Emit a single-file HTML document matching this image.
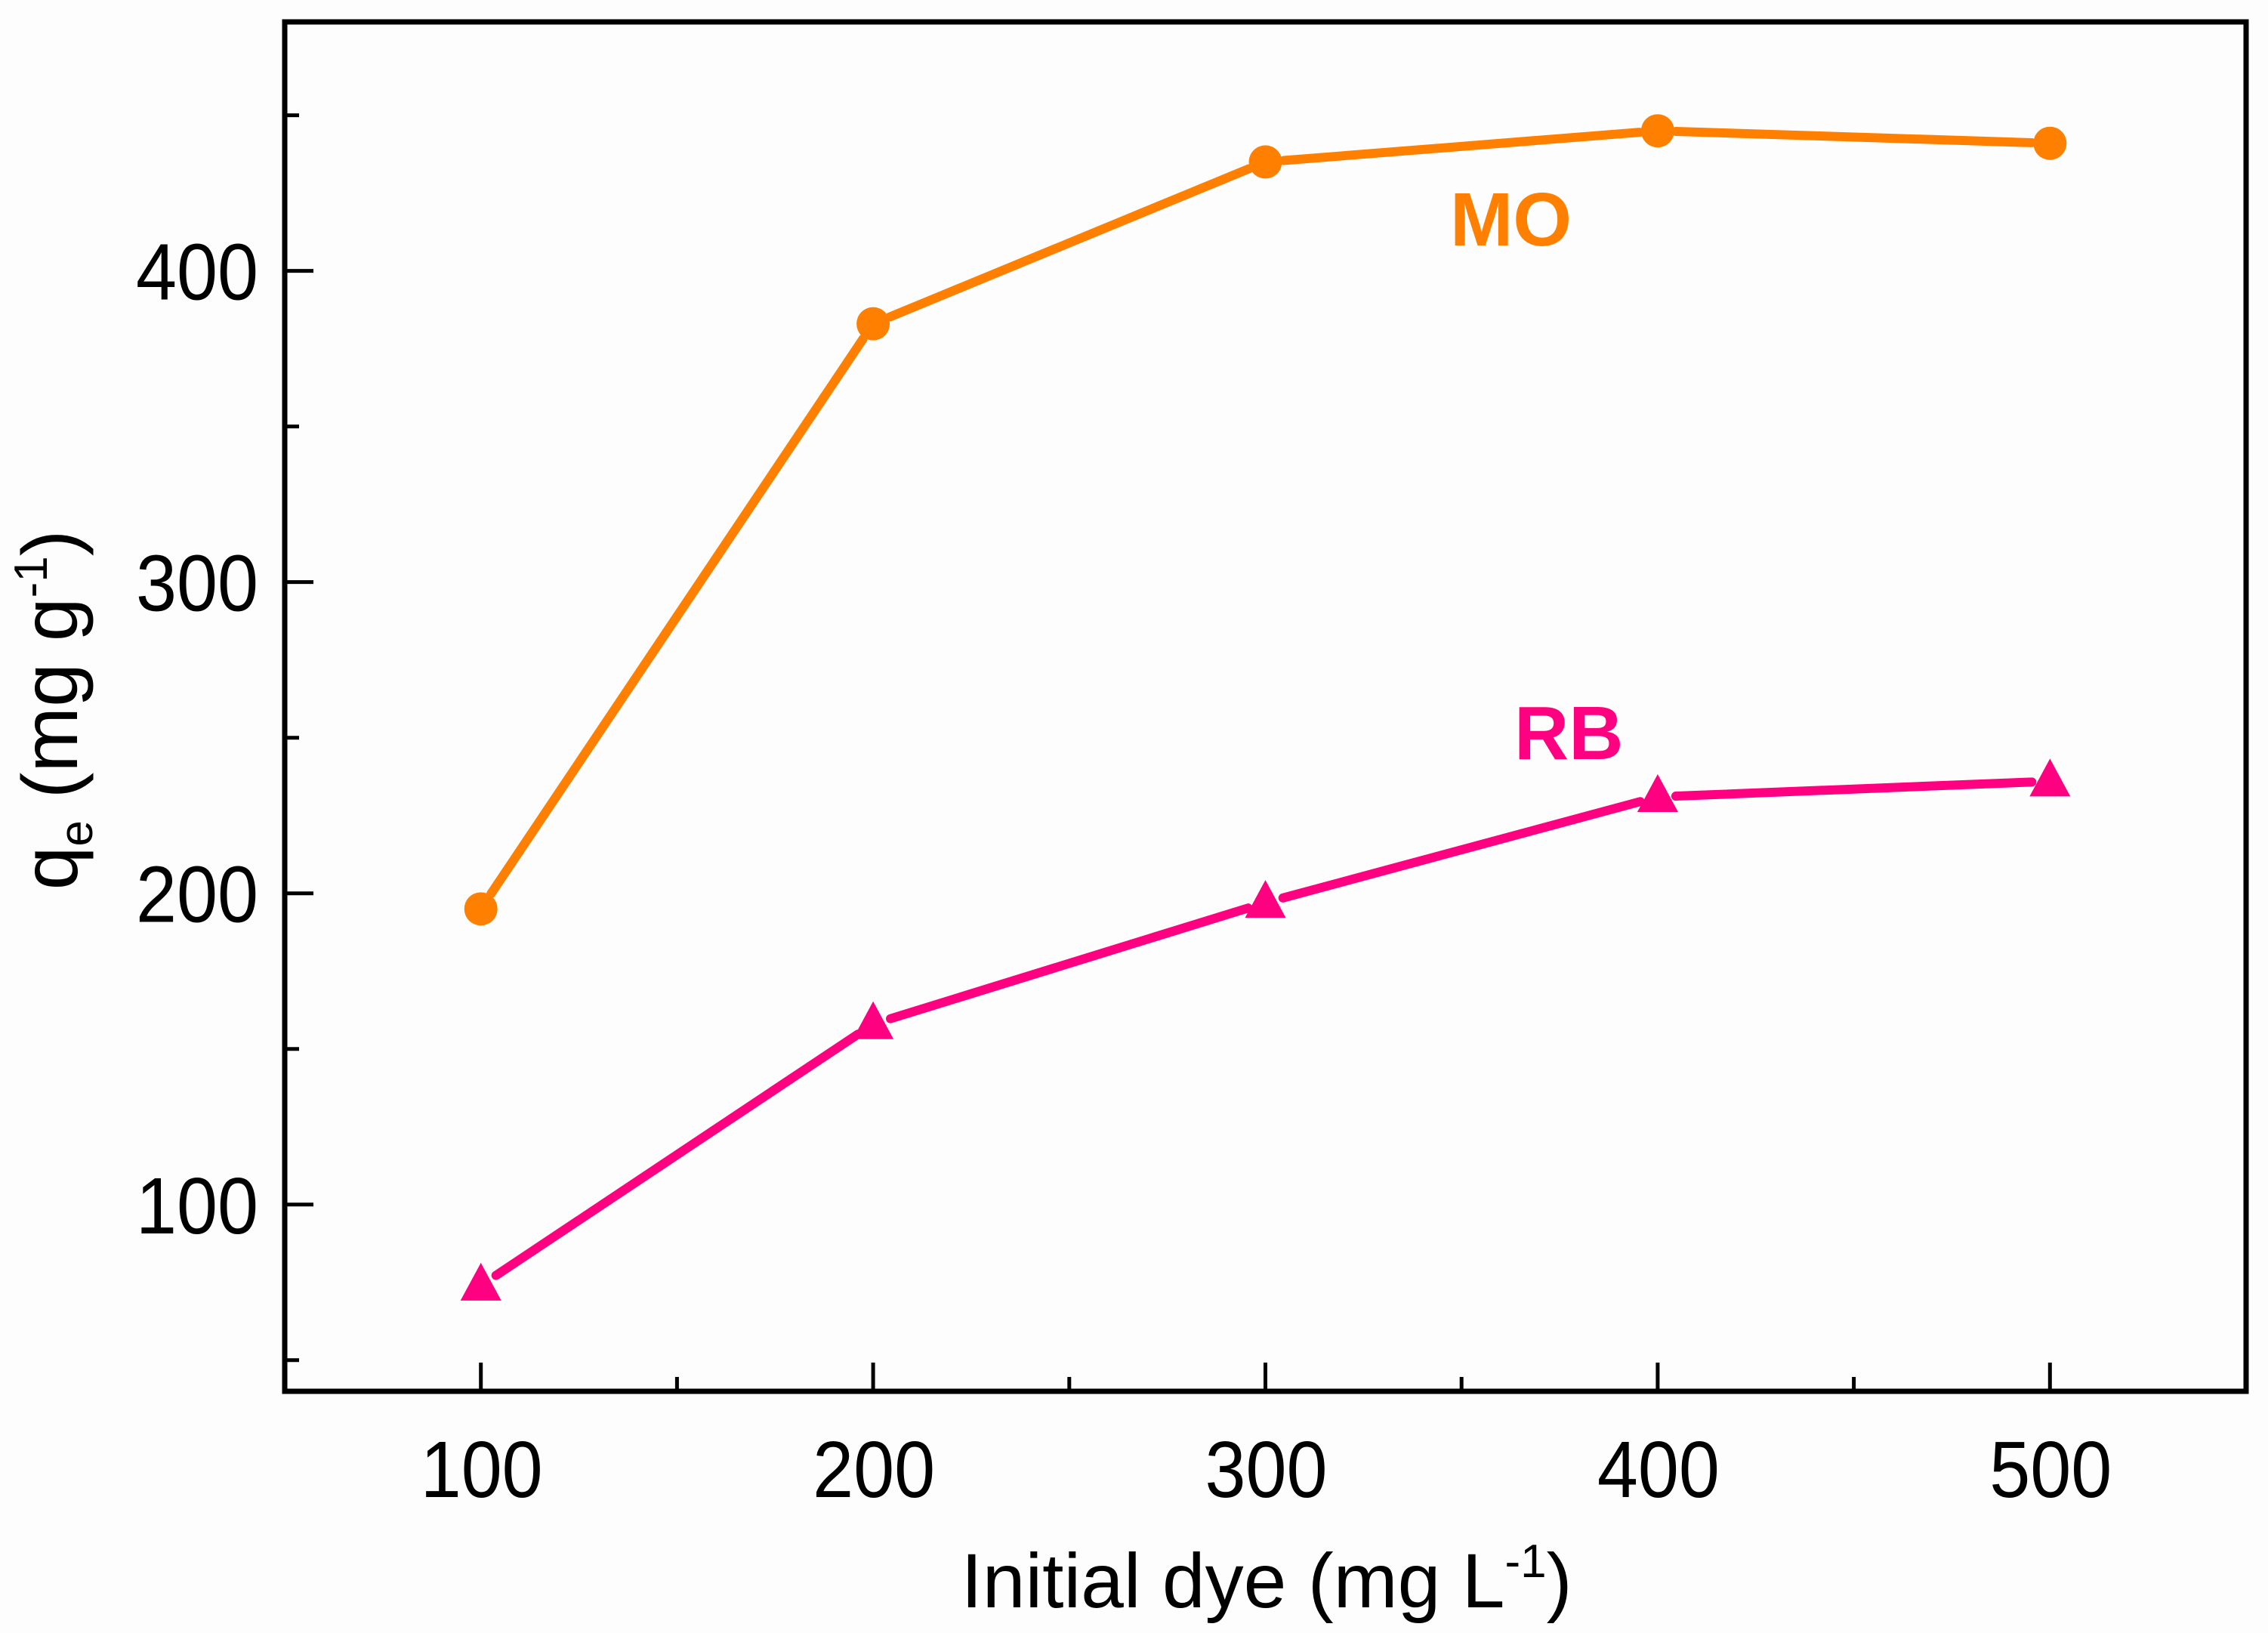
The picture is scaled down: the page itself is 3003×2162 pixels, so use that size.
<!DOCTYPE html>
<html><head><meta charset="utf-8"><style>
html,body{margin:0;padding:0;background:#fff;}
svg{display:block;font-family:"Liberation Sans",Arial,sans-serif;}
</style></head><body>
<svg id="chart" width="3003" height="2162" viewBox="0 0 3003 2162" xmlns="http://www.w3.org/2000/svg">
<rect width="3003" height="2162" fill="#fdfdfd"/>
<g id="plot"></g>
</svg>
<script>
const categories=[100,200,300,400,500];
const moValues=[195,383,435,445,441];
const rbValues=[74,158,197,231,236];
const xTicks=[100,200,300,400,500];
const yTicks=[100,200,300,400];

const L=377,R=2974,T=29,B=1842;
const X0=50,X1=550,Y0=40,Y1=480;
function sx(v){return L+(v-X0)/(X1-X0)*(R-L);}
function sy(v){return B-(v-Y0)/(Y1-Y0)*(B-T);}
const NS='http://www.w3.org/2000/svg';
const g=document.getElementById('plot');
function mk(tag,attrs,parent){const e=document.createElementNS(NS,tag);for(const k in attrs)e.setAttribute(k,attrs[k]);(parent||g).appendChild(e);return e;}

function drawSeries(vals,color,shape,name){
  const sg=mk('g',{});
  
  
  const gap=24;
  for(let i=0;i<categories.length-1;i++){
    const x1=sx(categories[i]),y1=sy(vals[i]),x2=sx(categories[i+1]),y2=sy(vals[i+1]);
    const d=Math.hypot(x2-x1,y2-y1),ux=(x2-x1)/d,uy=(y2-y1)/d;
    const ln=mk('line',{x1:x1+ux*gap,y1:y1+uy*gap,x2:x2-ux*gap,y2:y2-uy*gap,stroke:color,'stroke-width':12,'stroke-linecap':'round'},sg);
    
    
  }
  categories.forEach((c,i)=>{
    const x=sx(c),y=sy(vals[i]);
    let m;
    if(shape==='circle'){m=mk('circle',{cx:x,cy:y,r:22,fill:color},sg);}
    else{m=mk('polygon',{points:`${x},${y-30} ${x-27},${y+20} ${x+27},${y+20}`,fill:color},sg);}
    
    
  });
}
drawSeries(moValues,'#ff8000','circle','mo');
drawSeries(rbValues,'#ff0080','triangle','rb');

const fr=mk('rect',{x:L,y:T,width:R-L,height:B-T,fill:'none',stroke:'#000','stroke-width':7});



for(let v=100;v<=500;v+=50){
  const major=xTicks.includes(v);
  const t=mk('line',{x1:sx(v),y1:B,x2:sx(v),y2:B-(major?38:19),stroke:'#000','stroke-width':5});
  
  
}
xTicks.forEach(v=>{
  const t=mk('text',{x:sx(v)-80,y:1982,'font-size':106,textLength:162,lengthAdjust:'spacingAndGlyphs',fill:'#000'});
  t.textContent=v;
  
  
});
for(let v=50;v<=450;v+=50){
  const major=yTicks.includes(v);
  const t=mk('line',{x1:L,y1:sy(v),x2:L+(major?38:19),y2:sy(v),stroke:'#000','stroke-width':5});
  
  
}
yTicks.forEach(v=>{
  const t=mk('text',{x:180,y:sy(v)+38,'font-size':106,textLength:162,lengthAdjust:'spacingAndGlyphs',fill:'#000'});
  t.textContent=v;
  
  
});
</script>
<svg width="3003" height="2162" style="position:absolute;left:0;top:0" xmlns="http://www.w3.org/2000/svg" font-family="Liberation Sans, Arial, sans-serif">
<text x="1677" y="2128" font-size="102" text-anchor="middle" fill="#000">Initial dye (mg L<tspan font-size="62" dy="-40">-1</tspan><tspan dy="40">)</tspan></text>
<text transform="translate(102,940) rotate(-90)" font-size="104" text-anchor="middle" fill="#000">q<tspan font-size="62" dy="20">e</tspan><tspan dy="-20"> (mg g</tspan><tspan font-size="62" dy="-40">-1</tspan><tspan dy="40">)</tspan></text>
<text x="1920" y="325" font-size="100" font-weight="bold" fill="#ff8000">MO</text>
<text x="2005" y="1005" font-size="100" font-weight="bold" fill="#ff0080">RB</text>
</svg>
</body></html>
